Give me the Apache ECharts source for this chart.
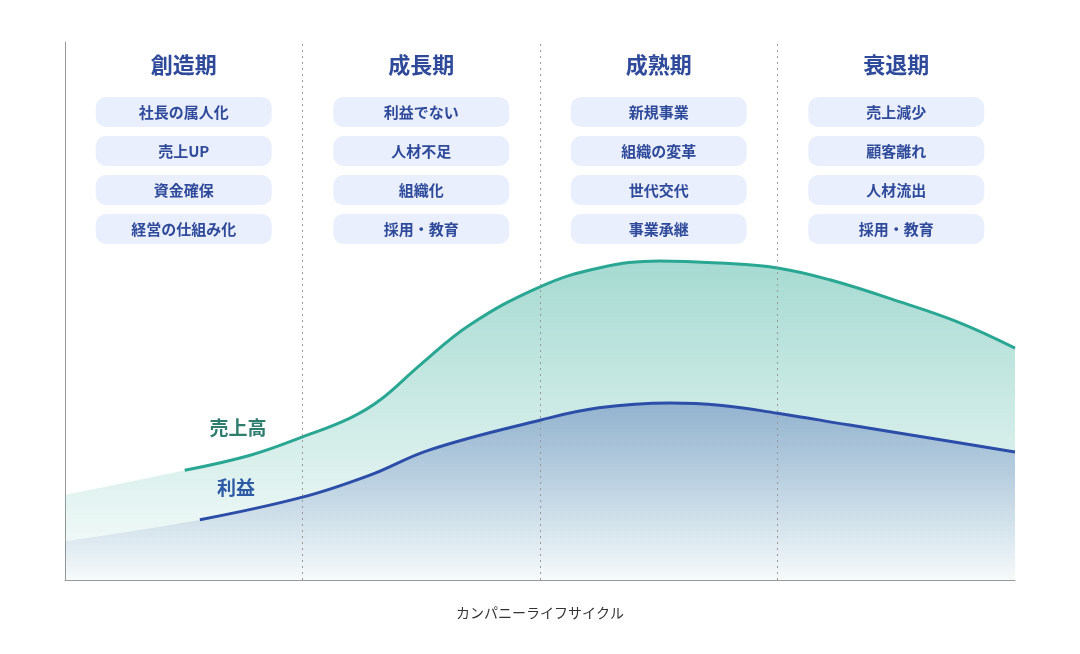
<!DOCTYPE html>
<html lang="ja">
<head>
<meta charset="UTF-8">
<title>カンパニーライフサイクル</title>
<script src="https://cdn.jsdelivr.net/npm/echarts@6/dist/echarts.min.js"></script>
<style>html,body{margin:0;background:#fff}</style>
</head>
<body>
<div id="main" style="width:1080px;height:654px;"></div>
<script>
// phases and their keywords
const phases = ['創造期', '成長期', '成熟期', '衰退期'];
const phaseItems = [
  ['社長の属人化', '売上UP', '資金確保', '経営の仕組み化'],
  ['利益でない', '人材不足', '組織化', '採用・教育'],
  ['新規事業', '組織の変革', '世代交代', '事業承継'],
  ['売上減少', '顧客離れ', '人材流出', '採用・教育']
];
const phaseBounds = [25, 50, 75];

// sales curve [x, value]
const salesX = [0, 12.6, 19.5, 25, 30, 33.2, 37.4, 42.6, 50, 56.2, 62.6, 68.9, 75, 80.5, 87.9, 94.2, 100];
const salesY = [15.8, 20.4, 23.2, 26.6, 30.1, 33.5, 40.0, 47.4, 54.5, 58.0, 59.3, 58.9, 58.0, 55.8, 51.7, 47.8, 43.1];
// profit curve
const profitX = [0, 14.2, 25, 32.1, 38.4, 50, 56.2, 63.7, 68.9, 75, 82.6, 91, 100];
const profitY = [7.2, 11.2, 15.4, 19.5, 24.2, 29.7, 32.0, 32.9, 32.5, 31.0, 28.8, 26.4, 23.8];
const salesLineStart = 12.6;
const profitLineStart = 14.2;

const sales = salesX.map((x, i) => [x, salesY[i]]);
const profit = profitX.map((x, i) => [x, profitY[i]]);

const chart = echarts.init(document.getElementById('main'));
const grad = (c, a0, a1) => new echarts.graphic.LinearGradient(0, 0, 0, 1, [
  { offset: 0, color: `rgba(${c},${a0})` }, { offset: 1, color: `rgba(${c},${a1})` }
]);

chart.setOption({
  animation: false,
  grid: { left: 65, right: 65, top: 42, bottom: 74 },
  xAxis: {
    type: 'value', min: 0, max: 100,
    name: 'カンパニーライフサイクル', nameLocation: 'middle', nameGap: 26,
    nameTextStyle: { color: '#333', fontSize: 14, fontFamily: 'Noto Sans CJK JP' },
    axisLine: { lineStyle: { color: '#999' } },
    axisTick: { show: false }, axisLabel: { show: false }, splitLine: { show: false }
  },
  yAxis: {
    type: 'value', min: 0, max: 100,
    axisLine: { show: true, lineStyle: { color: '#999' } },
    axisTick: { show: false }, axisLabel: { show: false }, splitLine: { show: false }
  },
  series: [
    {
      type: 'line', data: sales, smooth: 0.4, symbol: 'none',
      lineStyle: { width: 0 },
      areaStyle: { color: grad('42,167,147', 0.6, 0.04) },
      markLine: {
        silent: true, symbol: 'none', label: { show: false },
        lineStyle: { color: '#999', type: [2, 4], width: 1 },
        data: phaseBounds.map(v => ({ xAxis: v }))
      }
    },
    {
      type: 'line', data: profit, smooth: 0.4, symbol: 'none',
      lineStyle: { width: 0 },
      areaStyle: { color: grad('45,78,168', 0.5, 0.02) }
    },
    {
      type: 'line', data: sales.filter(p => p[0] >= salesLineStart), smooth: 0.4, symbol: 'none',
      lineStyle: { color: '#2aa793', width: 3 }
    },
    {
      type: 'line', data: profit.filter(p => p[0] >= profitLineStart), smooth: 0.4, symbol: 'none',
      lineStyle: { color: '#2d4ea8', width: 3 }
    }
  ]
});

// phase titles and keyword boxes
const font = 'Noto Sans CJK JP';
const els = [];
phases.forEach((p, i) => {
  const cx = chart.convertToPixel({ gridIndex: 0 }, [i * 25 + 12.5, 0])[0];
  els.push({ type: 'text', x: cx, y: 65, style: { text: p, fill: '#2f4a9a', font: `bold 22px "${font}"`, align: 'center', verticalAlign: 'middle' } });
  phaseItems[i].forEach((t, j) => {
    const cy = 112 + j * 39;
    els.push({ type: 'rect', shape: { x: cx - 88, y: cy - 15, width: 176, height: 30, r: 10 }, style: { fill: '#e9effc' } });
    els.push({ type: 'text', x: cx, y: cy, style: { text: t, fill: '#2f4a9a', font: `bold 15px "${font}"`, align: 'center', verticalAlign: 'middle' } });
  });
});
els.push({ type: 'text', x: 238, y: 428, style: { text: '売上高', fill: '#2e7d6f', font: `bold 19px "${font}"`, align: 'center', verticalAlign: 'middle' } });
els.push({ type: 'text', x: 236, y: 488, style: { text: '利益', fill: '#2d4ea8', font: `bold 19px "${font}"`, align: 'center', verticalAlign: 'middle' } });
chart.setOption({ graphic: els });
</script>
</body>
</html>
